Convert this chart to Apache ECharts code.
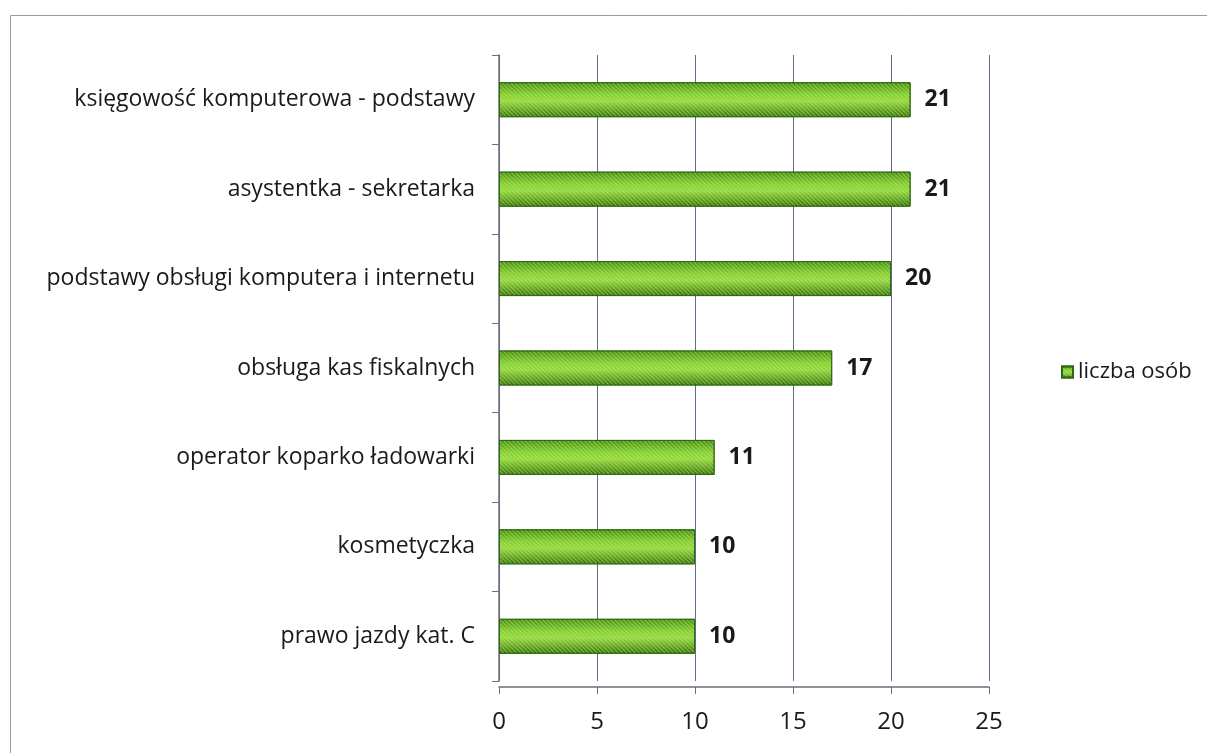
<!DOCTYPE html>
<html>
<head>
<meta charset="utf-8">
<script src="https://cdn.jsdelivr.net/npm/echarts@6/dist/echarts.min.js"></script>
<style>
  html, body { margin: 0; padding: 0; background: #ffffff; }
  #chart { width: 1207px; height: 753px; }
</style>
</head>
<body>
<div id="chart"></div>
<script>
// kursy - liczba osób
const categories = [
  'księgowość komputerowa - podstawy',
  'asystentka - sekretarka',
  'podstawy obsługi komputera i internetu',
  'obsługa kas fiskalnych',
  'operator koparko ładowarki',
  'kosmetyczka',
  'prawo jazdy kat. C'
]
const values = [21, 21, 20, 17, 11, 10, 10]
const seriesName = 'liczba osób'
const xTicks = [0, 5, 10, 15, 20, 25]

const chart = echarts.init(document.getElementById('chart'))

const barColor = new echarts.graphic.LinearGradient(0, 0, 0, 1, [
  { offset: 0, color: '#3f8a1c' },
  { offset: 0.35, color: '#80d03c' },
  { offset: 0.55, color: '#92da4c' },
  { offset: 1, color: '#2f7014' }
])

const option = {
  backgroundColor: '#ffffff',
  textStyle: { fontFamily: '"Open Sans", sans-serif' },
  graphic: [
    {
      type: 'rect',
      shape: { x: 10.5, y: 15.5, width: 1210, height: 760 },
      style: { fill: 'none', stroke: '#9a9a9a', lineWidth: 1 },
      silent: true
    }
  ],
  legend: {
    orient: 'vertical',
    left: 1056,
    top: 356,
    itemWidth: 11,
    itemHeight: 11,
    itemGap: 10,
    icon: 'rect',
    textStyle: { fontSize: 22, color: '#1a1a1a', fontFamily: '"Open Sans", sans-serif' },
    data: [seriesName]
  },
  grid: {
    left: 499,
    right: 218,
    top: 55,
    bottom: 72
  },
  xAxis: {
    type: 'value',
    min: xTicks[0],
    max: xTicks[xTicks.length - 1],
    interval: 5,
    offset: 6,
    axisLine: { show: true, lineStyle: { color: '#6b6f78', width: 1.5 } },
    axisTick: { show: true, length: 7, lineStyle: { color: '#6b6f78' } },
    axisLabel: { fontSize: 24, color: '#1a1a1a', margin: 23 },
    splitLine: { show: true, lineStyle: { color: '#5d6d8a', width: 1 } }
  },
  yAxis: {
    type: 'category',
    inverse: true,
    data: categories,
    axisLine: { show: true, lineStyle: { color: '#6b6f78', width: 1.5 } },
    axisTick: { show: true, length: 7, lineStyle: { color: '#6b6f78' } },
    axisLabel: { fontSize: 23, color: '#1a1a1a', margin: 24 }
  },
  series: [
    {
      name: seriesName,
      type: 'bar',
      data: values,
      barWidth: 35,
      itemStyle: {
        color: barColor,
        borderColor: '#2d6a12',
        borderWidth: 1,
        decal: {
          symbol: 'rect',
          symbolSize: 1,
          dashArrayX: [1, 0],
          dashArrayY: [1, 2],
          rotation: Math.PI / 4,
          color: 'rgba(205, 228, 70, 0.55)'
        }
      },
      label: {
        show: true,
        position: 'right',
        distance: 14,
        fontSize: 23,
        fontWeight: 'bold',
        color: '#1a1a1a'
      }
    }
  ]
}

chart.setOption(option)
</script>
</body>
</html>
